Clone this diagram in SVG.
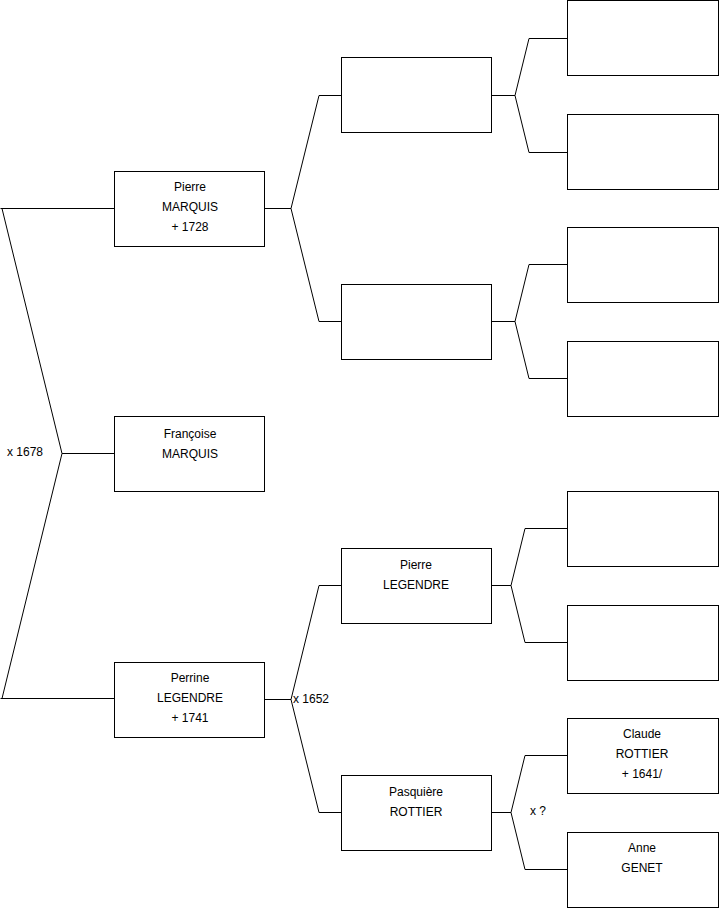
<svg xmlns="http://www.w3.org/2000/svg" width="719" height="908" viewBox="0 0 719 908">
<style>
rect{fill:#fff;stroke:#000;stroke-width:1}
.c{fill:none;stroke:#000;stroke-width:1}
text{font-family:"Liberation Sans",Arial,sans-serif;font-size:12px;fill:#000}
.m{text-anchor:middle}
</style>
<rect x="0" y="0" width="719" height="908" style="stroke:none"/>
<g id="connectors">
<path class="c" d="M0.5,208.5H114M2,208.5L62,453.5L2,698.5M62,453.5H114M0.5,698.5H114"/>
<path class="c" d="M265,208.5H291M319,95.5L291,208.5L319,321.5M319,95.5H341M319,321.5H341"/>
<path class="c" d="M265,699.5H291M319,585.5L291,699.5L319,812.5M319,585.5H341M319,812.5H341"/>
<path class="c" d="M491,95.5H515M529,38.5L515,95.5L529,152.5M529,38.5H567M529,152.5H567"/>
<path class="c" d="M491,321.5H515M529,264.5L515,321.5L529,378.5M529,264.5H567M529,378.5H567"/>
<path class="c" d="M491,585.5H511M525,528.5L511,585.5L525,642.5M525,528.5H567M525,642.5H567"/>
<path class="c" d="M491,812.5H511M525,755.5L511,812.5L525,869.5M525,755.5H567M525,869.5H567"/>
<text x="7" y="456">x 1678</text>
<text x="293" y="703">x 1652</text>
<text x="530" y="815">x ?</text>
</g>
<g id="pierre-marquis"><rect x="114.5" y="171.5" width="150" height="75"/><text class="m" x="190" y="191">Pierre</text><text class="m" x="190" y="211">MARQUIS</text><text class="m" x="190" y="231">+ 1728</text></g>
<g id="francoise-marquis"><rect x="114.5" y="416.5" width="150" height="75"/><text class="m" x="190" y="438">Françoise</text><text class="m" x="190" y="458">MARQUIS</text></g>
<g id="perrine-legendre"><rect x="114.5" y="662.5" width="150" height="75"/><text class="m" x="190" y="682">Perrine</text><text class="m" x="190" y="702">LEGENDRE</text><text class="m" x="190" y="722">+ 1741</text></g>
<g id="p1"><rect x="341.5" y="57.5" width="150" height="75"/></g>
<g id="p2"><rect x="341.5" y="284.5" width="150" height="75"/></g>
<g id="pierre-legendre"><rect x="341.5" y="548.5" width="150" height="75"/><text class="m" x="416" y="569">Pierre</text><text class="m" x="416" y="589">LEGENDRE</text></g>
<g id="pasquiere-rottier"><rect x="341.5" y="775.5" width="150" height="75"/><text class="m" x="416" y="796">Pasquière</text><text class="m" x="416" y="816">ROTTIER</text></g>
<g id="g1"><rect x="567.5" y="0.5" width="151" height="75"/></g>
<g id="g2"><rect x="567.5" y="114.5" width="151" height="75"/></g>
<g id="g3"><rect x="567.5" y="227.5" width="151" height="75"/></g>
<g id="g4"><rect x="567.5" y="341.5" width="151" height="75"/></g>
<g id="g5"><rect x="567.5" y="491.5" width="151" height="75"/></g>
<g id="g6"><rect x="567.5" y="605.5" width="151" height="75"/></g>
<g id="claude-rottier"><rect x="567.5" y="718.5" width="151" height="75"/><text class="m" x="642" y="738">Claude</text><text class="m" x="642" y="758">ROTTIER</text><text class="m" x="642" y="778">+ 1641/</text></g>
<g id="anne-genet"><rect x="567.5" y="832.5" width="151" height="75"/><text class="m" x="642" y="852">Anne</text><text class="m" x="642" y="872">GENET</text></g>
</svg>
